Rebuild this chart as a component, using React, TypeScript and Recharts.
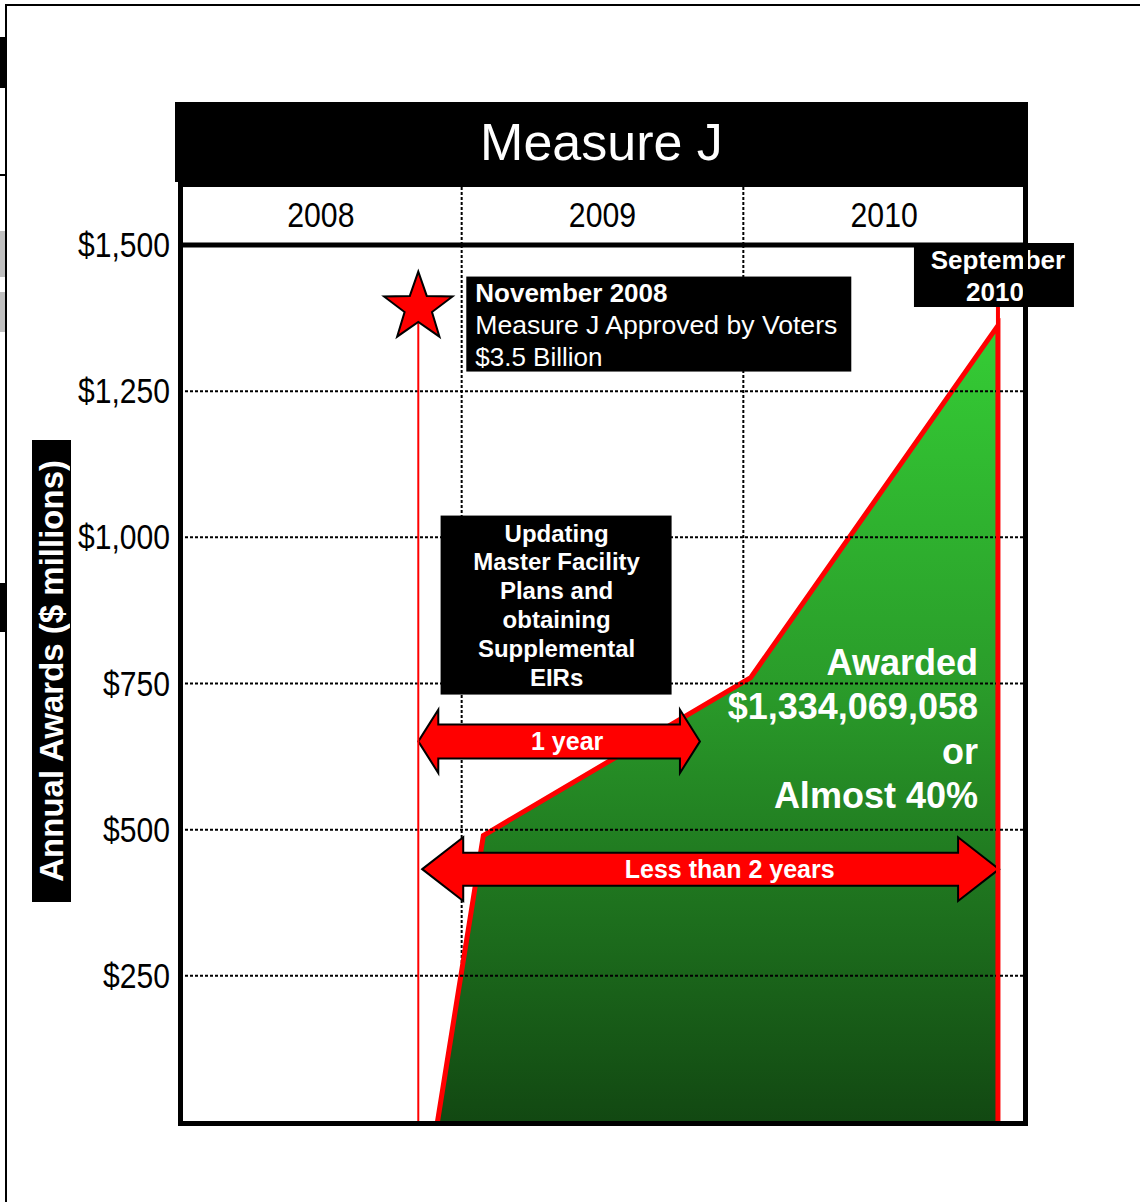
import React from 'react'
import {
  ComposedChart,
  Area,
  XAxis,
  YAxis,
  CartesianGrid,
  ReferenceLine,
  ReferenceDot,
  ReferenceArea,
} from 'recharts'

/* ─── Data ─────────────────────────────────────────────────────── */

// cumulative Measure J awards ($ millions), x = fractional year
const awardYears = [2008.914, 2009.077, 2010.026, 2010.904, 2010.904]
const awardValues = [0, 490, 760, 1362, 0]

const yTicks = [0, 250, 500, 750, 1000, 1250, 1500]
const gridValues = [250, 500, 750, 1000, 1250]

const yearLabels = ['2008', '2009', '2010']
const yearMids = [2008.5, 2009.5, 2010.5]
const yearBounds = [2009, 2010]

const approvedAt = 2008.846 // November 2008
const awardedAt = 2010.904 // September 2010
const oneYearSpan = [2008.846, 2009.846]
const twoYearSpan = [2008.86, 2010.908]

const awardData = awardYears.map((x, i) => ({ x, v: awardValues[i] }))

/* ─── Styles ───────────────────────────────────────────────────── */

const FONT = '"Liberation Sans", Arial, Helvetica, sans-serif'
const RED = '#ff0000'
const DOTS = '3 2'

/* ─── Ticks ────────────────────────────────────────────────────── */

function YearTick(props: any) {
  const { x, y, payload } = props
  const v = payload.value
  if (yearBounds.includes(v)) {
    return (
      <line x1={x} x2={x} y1={y + 18} y2={y - 45} stroke="#000" strokeWidth={2} strokeDasharray={DOTS} />
    )
  }
  const i = yearMids.indexOf(v)
  return (
    <text
      transform={`translate(${x},${y}) scale(0.84,1)`}
      textAnchor="middle"
      fontFamily={FONT}
      fontSize={36}
      fill="#000"
    >
      {yearLabels[i]}
    </text>
  )
}

function MoneyTick(props: any) {
  const { x, y, payload } = props
  if (payload.value === 0) return null
  return (
    <text
      transform={`translate(${x},${y}) scale(0.86,1)`}
      dy={12}
      textAnchor="end"
      fontFamily={FONT}
      fontSize={35}
      fill="#000"
    >
      {'$' + payload.value.toLocaleString('en-US')}
    </text>
  )
}

/* ─── Annotation shapes ────────────────────────────────────────── */

function starShape(p: any) {
  const { cx, cy } = p
  const R = 36
  const pts = Array.from({ length: 10 }, (_, i) => {
    const a = ((-90 + i * 36) * Math.PI) / 180
    const r = i % 2 === 0 ? R : R * 0.4
    return `${cx + r * Math.cos(a)},${cy + r * Math.sin(a)}`
  }).join(' ')
  return <polygon points={pts} fill={RED} stroke="#000" strokeWidth={2} />
}

function approvedBox(p: any) {
  const { cx, cy } = p
  const tx = cx + 57
  return (
    <g fontFamily={FONT} fill="#fff" fontSize={26}>
      <rect x={cx + 48} y={cy - 31} width={385} height={95} fill="#000" />
      <text x={tx} y={cy - 6} fontWeight="bold">November 2008</text>
      <text x={tx} y={cy + 26} textLength={362} lengthAdjust="spacingAndGlyphs">
        Measure J Approved by Voters
      </text>
      <text x={tx} y={cy + 58}>$3.5 Billion</text>
    </g>
  )
}

function septBox(p: any) {
  const { cx, cy } = p
  return (
    <g fontFamily={FONT} fill="#fff" fontSize={26} fontWeight="bold" textAnchor="middle">
      <rect x={cx - 84} y={cy - 2} width={160} height={64} fill="#000" />
      <text x={cx} y={cy + 24}>September</text>
      <text x={cx - 3} y={cy + 56}>2010</text>
    </g>
  )
}

const updatingLines = ['Updating', 'Master Facility', 'Plans and', 'obtaining', 'Supplemental', 'EIRs']

function updatingBox(p: any) {
  const { cx, cy } = p
  return (
    <g fontFamily={FONT} fill="#fff" fontSize={24} fontWeight="bold" textAnchor="middle">
      <rect x={cx - 116} y={cy - 89} width={231} height={179} fill="#000" />
      {updatingLines.map((t, i) => (
        <text key={t} x={cx} y={cy - 63 + i * 28.8}>{t}</text>
      ))}
    </g>
  )
}

const awardedLines = ['Awarded', '$1,334,069,058', 'or', 'Almost 40%']

function awardedText(p: any) {
  const { cx, cy } = p
  return (
    <g fontFamily={FONT} fill="#fff" fontSize={36} fontWeight="bold" textAnchor="end">
      {awardedLines.map((t, i) => (
        <text key={t} x={cx - 20} y={cy + i * 44.5}>{t}</text>
      ))}
    </g>
  )
}

function arrowShape(headLen: number, shaft: number, label: string, shift: number) {
  return (p: any) => {
    const { x, y, width: w, height: h } = p
    const mid = y + h / 2
    const pts = [
      [x, mid],
      [x + headLen, y],
      [x + headLen, mid - shaft / 2],
      [x + w - headLen, mid - shaft / 2],
      [x + w - headLen, y],
      [x + w, mid],
      [x + w - headLen, y + h],
      [x + w - headLen, mid + shaft / 2],
      [x + headLen, mid + shaft / 2],
      [x + headLen, y + h],
    ]
      .map((q) => q.join(','))
      .join(' ')
    return (
      <g>
        <polygon points={pts} fill={RED} stroke="#000" strokeWidth={2} />
        <text
          x={x + w / 2 + shift}
          y={mid + 9}
          textAnchor="middle"
          fontFamily={FONT}
          fontWeight="bold"
          fontSize={25}
          fill="#fff"
        >
          {label}
        </text>
      </g>
    )
  }
}

/* ─── Page chrome ──────────────────────────────────────────────── */

const abs = (s: React.CSSProperties): React.CSSProperties => ({ position: 'absolute', ...s })

export default function App() {
  return (
    <div style={abs({ left: 0, top: 0, width: 1140, height: 1202, background: '#fff', fontFamily: FONT, overflow: 'hidden' })}>
      {/* slide edge remnants */}
      <div style={abs({ left: 5, top: 4, width: 1135, height: 2, background: '#000' })} />
      <div style={abs({ left: 5, top: 4, width: 2, height: 1198, background: '#000' })} />
      <div style={abs({ left: 0, top: 37, width: 5, height: 51, background: '#000' })} />
      <div style={abs({ left: 0, top: 174, width: 5, height: 2, background: '#000' })} />
      <div style={abs({ left: 0, top: 231, width: 5, height: 46, background: '#c0c0c0' })} />
      <div style={abs({ left: 0, top: 292, width: 5, height: 40, background: '#c0c0c0' })} />
      <div style={abs({ left: 0, top: 583, width: 5, height: 49, background: '#000' })} />

      <div style={abs({ left: 0, top: 0 })}>
        <ComposedChart
          width={1140}
          height={1202}
          data={awardData}
          margin={{ top: 182, right: 115, bottom: 80, left: 100 }}
        >
          <defs>
            <linearGradient id="awardFill" x1="0" y1="0" x2="0" y2="1">
              <stop offset="0%" stopColor="#35cd35" />
              <stop offset="45%" stopColor="#2a9c2a" />
              <stop offset="100%" stopColor="#124812" />
            </linearGradient>
          </defs>
          <CartesianGrid
            horizontal={false}
            verticalValues={yearBounds}
            stroke="#000"
            strokeWidth={2}
            strokeDasharray={DOTS}
          />
          <XAxis
            dataKey="x"
            type="number"
            orientation="top"
            domain={[2008, 2011]}
            ticks={[...yearMids, ...yearBounds]}
            height={63}
            tickSize={0}
            tickMargin={18}
            tick={<YearTick />}
            axisLine={{ stroke: '#000', strokeWidth: 5 }}
            tickLine={false}
            interval={0}
            allowDataOverflow
          />
          <YAxis
            type="number"
            domain={[0, 1500]}
            ticks={yTicks}
            width={80}
            tickSize={0}
            tickMargin={10}
            tick={<MoneyTick />}
            axisLine={false}
            tickLine={false}
            interval={0}
          />
          <Area
            type="linear"
            dataKey="v"
            stroke={RED}
            strokeWidth={5}
            fill="url(#awardFill)"
            fillOpacity={1}
            isAnimationActive={false}
            dot={false}
            activeDot={false}
          />
          {gridValues.map((g) => (
            <ReferenceLine key={g} y={g} stroke="#000" strokeWidth={2} strokeDasharray={DOTS} />
          ))}
          <ReferenceLine
            segment={[{ x: approvedAt, y: 0 }, { x: approvedAt, y: 1393 }]}
            stroke={RED}
            strokeWidth={2}
          />
          <ReferenceLine
            segment={[{ x: awardedAt, y: 0 }, { x: awardedAt, y: 1500 }]}
            stroke={RED}
            strokeWidth={4}
          />
          <ReferenceArea
            x1={oneYearSpan[0]}
            x2={oneYearSpan[1]}
            y1={597}
            y2={705}
            shape={arrowShape(20, 34, '1 year', 8)}
            ifOverflow="visible"
          />
          <ReferenceArea
            x1={twoYearSpan[0]}
            x2={twoYearSpan[1]}
            y1={378}
            y2={487}
            shape={arrowShape(41, 33, 'Less than 2 years', 19)}
            ifOverflow="visible"
          />
          <ReferenceDot x={approvedAt} y={1393} r={0} shape={starShape} ifOverflow="visible" />
          <ReferenceDot x={approvedAt} y={1393} r={0} shape={approvedBox} ifOverflow="visible" />
          <ReferenceDot x={awardedAt} y={1500} r={0} shape={septBox} ifOverflow="visible" />
          <ReferenceDot x={2009.337} y={885} r={0} shape={updatingBox} ifOverflow="visible" />
          <ReferenceDot x={awardedAt} y={765} r={0} shape={awardedText} ifOverflow="visible" />
        </ComposedChart>
      </div>

      {/* frame round the header row and plot */}
      <div
        style={abs({
          left: 178,
          top: 182,
          width: 850,
          height: 944,
          border: '5px solid #000',
          boxSizing: 'border-box',
          pointerEvents: 'none',
        })}
      />

      {/* title bar */}
      <div
        style={abs({
          left: 175,
          top: 102,
          width: 853,
          height: 80,
          background: '#000',
          color: '#fff',
          fontSize: 52,
          lineHeight: '80px',
          textAlign: 'center',
        })}
      >
        Measure J
      </div>

      {/* y axis title */}
      <div
        style={abs({
          left: 32,
          top: 440,
          width: 39,
          height: 462,
          background: '#000',
          color: '#fff',
          fontWeight: 'bold',
          fontSize: 33,
          display: 'flex',
          alignItems: 'center',
          justifyContent: 'center',
        })}
      >
        <span style={{ writingMode: 'vertical-rl', transform: 'rotate(180deg)', whiteSpace: 'nowrap' }}>
          Annual Awards ($ millions)
        </span>
      </div>
    </div>
  )
}
